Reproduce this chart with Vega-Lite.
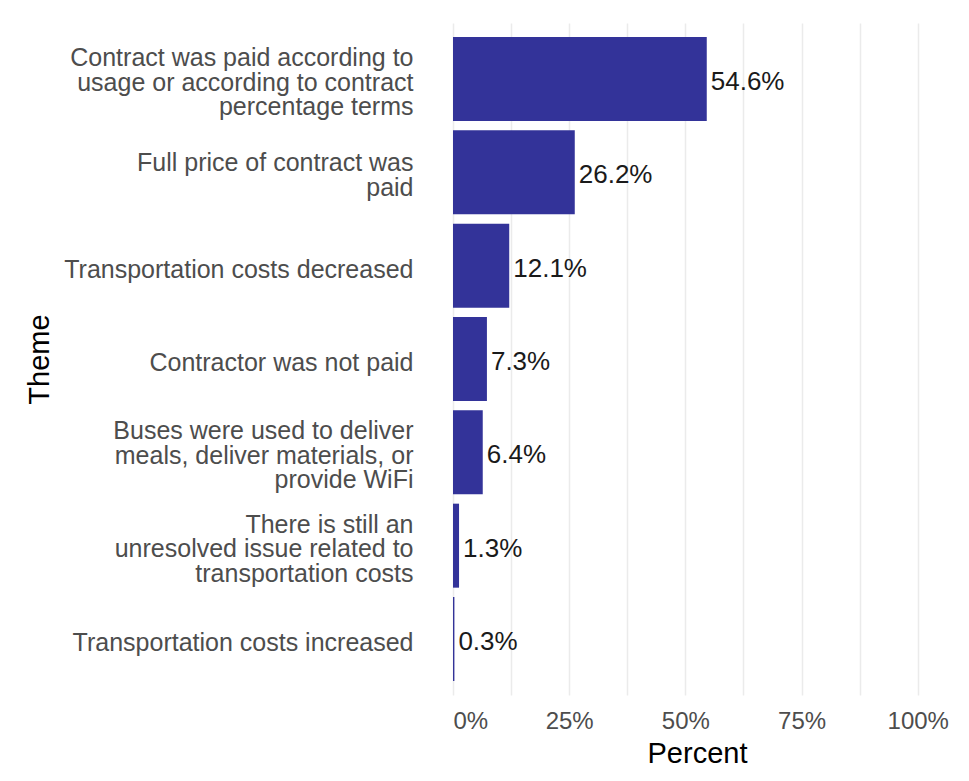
{
  "$schema": "https://vega.github.io/schema/vega-lite/v6.json",
  "autosize": "none",
  "width": 488,
  "height": 672,
  "padding": {"left": 453, "top": 23, "right": 28, "bottom": 86},
  "background": "white",
  "config": {
    "font": "Liberation Sans",
    "view": {"stroke": null}
  },
  "data": {
    "values": [
      {"theme": "Contract was paid according to usage or according to contract percentage terms", "percent": 0.546},
      {"theme": "Full price of contract was paid", "percent": 0.262},
      {"theme": "Transportation costs decreased", "percent": 0.121},
      {"theme": "Contractor was not paid", "percent": 0.073},
      {"theme": "Buses were used to deliver meals, deliver materials, or provide WiFi", "percent": 0.064},
      {"theme": "There is still an unresolved issue related to transportation costs", "percent": 0.013},
      {"theme": "Transportation costs increased", "percent": 0.003}
    ]
  },
  "encoding": {
    "y": {
      "field": "theme",
      "type": "nominal",
      "sort": null,
      "scale": {"paddingInner": 0.1, "paddingOuter": 0.15},
      "axis": {
        "title": "Theme",
        "titleFont": "Liberation Sans",
        "titleFontSize": 29,
        "titleFontWeight": "normal",
        "titleColor": "black",
        "titleX": -414,
        "titleY": 336,
        "titleAlign": "center",
        "titleBaseline": "middle",
        "titleAngle": -90,
        "domain": false,
        "ticks": false,
        "tickSize": 0,
        "labelPadding": 40,
        "labelFontSize": 25,
        "labelColor": "#4D4D4D",
        "labelLineHeight": 24.5,
        "labelLimit": 500,
        "labelOffset": {
          "condition": [
            {"test": "datum.value == 'Full price of contract was paid'", "value": -9},
            {"test": "datum.value == 'Contract was paid according to usage or according to contract percentage terms' || datum.value == 'Buses were used to deliver meals, deliver materials, or provide WiFi' || datum.value == 'There is still an unresolved issue related to transportation costs'", "value": -21}
          ],
          "value": 4
        },
        "labelExpr": "datum.label == 'Contract was paid according to usage or according to contract percentage terms' ? ['Contract was paid according to', 'usage or according to contract', 'percentage terms'] : datum.label == 'Full price of contract was paid' ? ['Full price of contract was', 'paid'] : datum.label == 'Buses were used to deliver meals, deliver materials, or provide WiFi' ? ['Buses were used to deliver', 'meals, deliver materials, or', 'provide WiFi'] : datum.label == 'There is still an unresolved issue related to transportation costs' ? ['There is still an', 'unresolved issue related to', 'transportation costs'] : datum.label"
      }
    }
  },
  "layer": [
    {
      "mark": {"type": "bar", "color": "#333399"},
      "encoding": {
        "x": {
          "field": "percent",
          "type": "quantitative",
          "scale": {"domain": [0, 1.05], "nice": false, "zero": true},
          "axis": {
            "title": "Percent",
            "titleFontSize": 29,
            "titleFontWeight": "normal",
            "titleColor": "black",
            "titlePadding": 6,
            "values": [0, 0.125, 0.25, 0.375, 0.5, 0.625, 0.75, 0.875, 1],
            "labelExpr": "(round(datum.value * 1000) % 250 == 0) ? format(datum.value, '.0%') : ''",
            "labelFontSize": 24,
            "labelColor": "#4D4D4D",
            "labelPadding": 14,
            "domain": false,
            "ticks": false,
            "tickSize": 0,
            "grid": true,
            "gridColor": "#EBEBEB",
            "gridWidth": 1.5
          }
        }
      }
    },
    {
      "mark": {"type": "text", "align": "left", "baseline": "middle", "dx": 4, "dy": 3, "fontSize": 26, "color": "#1a1a1a"},
      "encoding": {
        "x": {"field": "percent", "type": "quantitative"},
        "text": {"field": "percent", "type": "quantitative", "format": ".1%"}
      }
    }
  ]
}
